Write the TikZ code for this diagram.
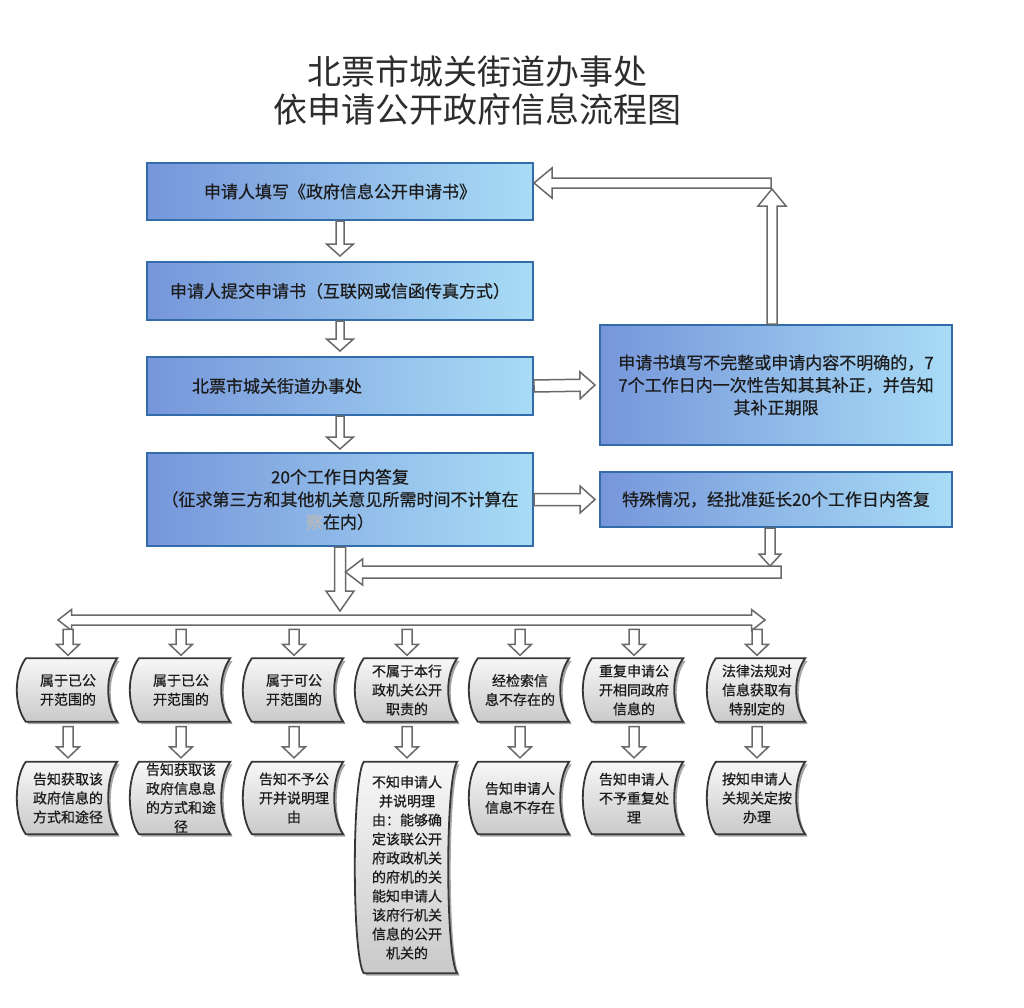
\documentclass[tikz,border=0pt]{standalone}
\usepackage{fontspec}
\newfontfamily\cjk{Noto Sans CJK SC}
\newfontfamily\cjkb[FakeBold=0.6]{Noto Sans CJK SC}
\usetikzlibrary{calc,backgrounds}
\definecolor{boxL}{RGB}{118,150,218}
\definecolor{boxR}{RGB}{168,220,246}
\definecolor{boxB}{RGB}{50,108,170}
\definecolor{arrG}{RGB}{105,105,105}
\definecolor{txt}{RGB}{28,28,28}
\definecolor{tapeB}{RGB}{55,55,55}
\definecolor{titleC}{RGB}{45,45,45}

\tikzset{
  bluebox/.style={draw=boxB, line width=2pt, left color=boxL, right color=boxR,
    inner sep=0pt, font=\cjkb\fontsize{17}{22.5}\selectfont, text=txt, align=center},
  tapebox/.style={inner sep=0pt, font=\cjkb\fontsize{14}{19}\selectfont, align=center, text=txt},
  blkarrow/.style={draw=arrG, fill=white, line width=1.5pt, line join=miter},
  tapestyle/.style={draw=tapeB, line width=1.8pt, top color=gray!6, bottom color=gray!42},
  tapeshadow/.style={fill=gray!70},
}

% hollow block arrow: from, to, half shaft, half head, head length
\newcommand\blk[5]{%
  \coordinate (bS) at #1; \coordinate (bE) at #2;
  \coordinate (bH) at ($(bE)!#5!(bS)$);
  \draw[blkarrow] ($(bS)!#3!90:(bE)$) -- ($(bH)!#3!90:(bE)$) -- ($(bH)!#4!90:(bE)$)
    -- (bE) -- ($(bH)!#4!-90:(bE)$) -- ($(bH)!#3!-90:(bE)$) -- ($(bS)!#3!-90:(bE)$) -- cycle;}

% hollow double-headed arrow
\newcommand\dblk[5]{%
  \coordinate (dS) at #1; \coordinate (dE) at #2;
  \coordinate (dHs) at ($(dS)!#5!(dE)$);
  \coordinate (dHe) at ($(dE)!#5!(dS)$);
  \draw[blkarrow] (dS) -- ($(dHs)!#4!90:(dE)$) -- ($(dHs)!#3!90:(dE)$) -- ($(dHe)!#3!90:(dE)$)
    -- ($(dHe)!#4!90:(dE)$) -- (dE) -- ($(dHe)!#4!-90:(dE)$) -- ($(dHe)!#3!-90:(dE)$)
    -- ($(dHs)!#3!-90:(dE)$) -- ($(dHs)!#4!-90:(dE)$) -- cycle;}

% stored-data like outline around a node
\newcommand\tape[2]{%
  ($(#1.north west)+(7,0)+#2$) -- ($(#1.north east)+#2$)
  .. controls +(-12,16) and +(-12,-16) .. ($(#1.south east)+#2$)
  -- ($(#1.south west)+(7,0)+#2$)
  .. controls +(-12,-16) and +(-12,16) .. ($(#1.north west)+(7,0)+#2$) -- cycle}

\begin{document}
\begin{tikzpicture}[x=1pt,y=-1pt]
\useasboundingbox (0,0) rectangle (1024,1007);

% title
\node[font=\cjk\fontsize{34}{38}\selectfont, text=titleC, align=center] (title) at (477,91)
  {北票市城关街道办事处\\依申请公开政府信息流程图};

% main boxes
\node[bluebox, minimum width=386, minimum height=57] (b1) at (340,191.5)
  {申请人填写《政府信息公开申请书》};
\node[bluebox, minimum width=386, minimum height=58] (b2) at (340,291)
  {申请人提交申请书（互联网或信函传真方式）};
\node[bluebox, minimum width=386, minimum height=58, text width=296, align=left] (b3) at (340,386)
  {北票市城关街道办事处};
\node[bluebox, minimum width=386, minimum height=93] (b4) at (340,499.5)
  {20个工作日内答复\\（征求第三方和其他机关意见所需时间不计算在\\{\color{gray!55}察}在内）};
\node[bluebox, minimum width=352, minimum height=120] (A) at (776,385)
  {申请书填写不完整或申请内容不明确的，7\\7个工作日内一次性告知其其补正，并告知\\其补正期限};
\node[bluebox, minimum width=352, minimum height=55] (B) at (776,499.5)
  {特殊情况，经批准延长20个工作日内答复};

% outcome nodes (top row)
\node[tapebox, minimum width=98, minimum height=63] (t1) at (68,690) {属于已公\\开范围的};
\node[tapebox, minimum width=98, minimum height=63] (t2) at (181,690) {属于已公\\开范围的};
\node[tapebox, minimum width=98, minimum height=63] (t3) at (294,690) {属于可公\\开范围的};
\node[tapebox, minimum width=100, minimum height=63] (t4) at (407,690) {不属于本行\\政机关公开\\职责的};
\node[tapebox, minimum width=98, minimum height=63] (t5) at (520,690) {经检索信\\息不存在的};
\node[tapebox, minimum width=98, minimum height=63] (t6) at (634,690) {重复申请公\\开相同政府\\信息的};
\node[tapebox, minimum width=96, minimum height=63] (t7) at (757,690) {法律法规对\\信息获取有\\特别定的};

% outcome nodes (bottom row)
\node[tapebox, minimum width=98, minimum height=72] (u1) at (68,798) {告知获取该\\政府信息的\\方式和途径};
\node[tapebox, minimum width=98, minimum height=72] (u2) at (181,798) {告知获取该\\政府信息息\\的方式和途\\径};
\node[tapebox, minimum width=98, minimum height=72] (u3) at (294,798) {告知不予公\\开并说明理\\由};
\node[tapebox, minimum width=100, minimum height=211] (u4) at (407,867.5)
  {不知申请人\\并说明理\\由：能够确\\定该联公开\\府政政机关\\的府机的关\\能知申请人\\该府行机关\\信息的公开\\机关的};
\node[tapebox, minimum width=98, minimum height=72] (u5) at (520,798) {告知申请人\\信息不存在};
\node[tapebox, minimum width=98, minimum height=72] (u6) at (634,798) {告知申请人\\不予重复处\\理};
\node[tapebox, minimum width=96, minimum height=72] (u7) at (757,798) {按知申请人\\关规关定按\\办理};

% backgrounds: page and outcome shapes
\begin{scope}[on background layer]
  \fill[white] (0,0) rectangle (1024,1007);
  \foreach \n in {t1,t2,t3,t4,t5,t6,t7,u1,u2,u3,u4,u5,u6,u7} {
    \fill[tapeshadow] \tape{\n}{(2.5,2.5)};
    \draw[tapestyle] \tape{\n}{(0,0)};
  }
\end{scope}

% arrows in the main column
\blk{(b1.south)}{($(b2.north)+(0,-5)$)}{4pt}{13.5pt}{12pt}
\blk{(b2.south)}{($(b3.north)+(0,-5)$)}{4pt}{13.5pt}{12pt}
\blk{(b3.south)}{($(b4.north)+(0,-3)$)}{4pt}{13.5pt}{12pt}
\blk{(b3.east)}{($(A.west)+(-4,0)$)}{6pt}{13.5pt}{15pt}
\blk{(b4.east)}{($(B.west)+(-4,0)$)}{6pt}{13.5pt}{15pt}

% feedback to the first box
\coordinate (tr) at (771,183);
\blk{($(A.north)+(-4,0)$)}{($(A.north)+(-4,-135)$)}{5pt}{14pt}{17pt}
\blk{(tr)}{(b1.east |- tr)}{5pt}{15pt}{18pt}

% main down arrow and extension join
\coordinate (mt) at (340,611);
\coordinate (br) at (781,572);
\blk{(b4.south)}{(mt)}{5.5pt}{14pt}{20pt}
\blk{(br)}{($(mt |- br)+(5.5,0)$)}{6pt}{13pt}{17pt}
\blk{($(B.south)+(-6,0)$)}{($(B.south)+(-6,38)$)}{5pt}{11pt}{12pt}

% distribution double arrow
\coordinate (dl) at (58,620);
\coordinate (dr) at (765,620);
\dblk{(dl)}{(dr)}{5pt}{10.5pt}{13.5pt}

% column arrows
\foreach \i in {1,...,7} {
  \blk{($(t\i.north)+(0,-29)$)}{($(t\i.north)+(0,-3)$)}{5pt}{11.5pt}{11pt}
  \blk{($(t\i.south)+(0,5)$)}{($(u\i.north)+(0,-4)$)}{5pt}{11.5pt}{11pt}
}
\end{tikzpicture}
\end{document}
